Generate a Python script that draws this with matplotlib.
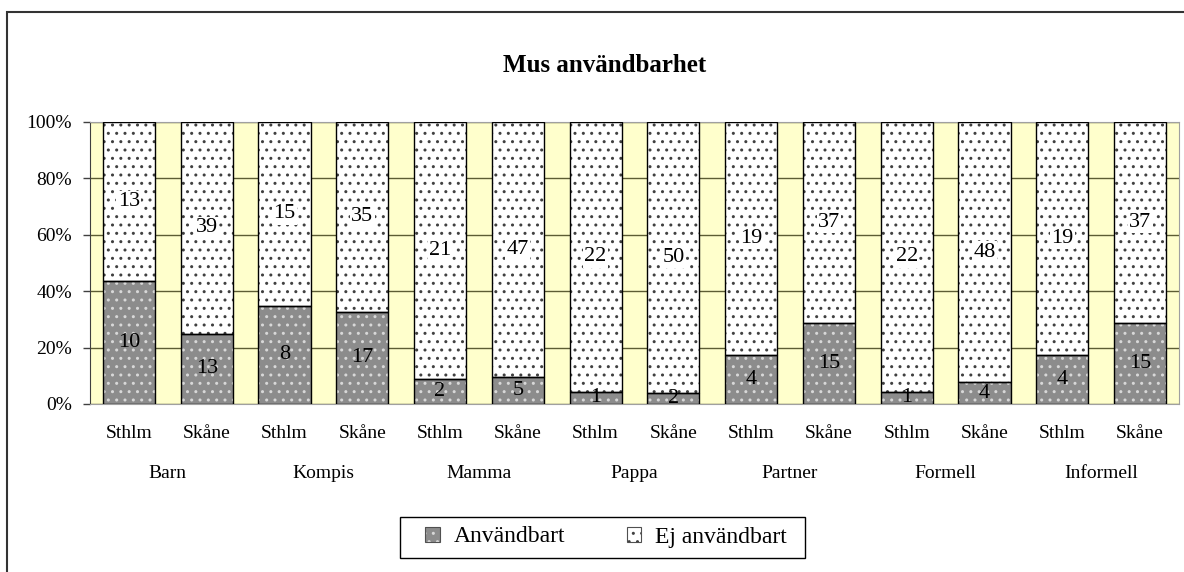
import matplotlib.pyplot as plt
from matplotlib.patches import Patch, Rectangle
import numpy as np

plt.rcParams['font.family'] = ['Liberation Serif', 'DejaVu Serif']
plt.rcParams['hatch.linewidth'] = 1.0

groups = ['Barn', 'Kompis', 'Mamma', 'Pappa', 'Partner', 'Formell', 'Informell']
regions = ['Sthlm', 'Skåne']
anvandbart = [10, 13, 8, 17, 2, 5, 1, 2, 4, 15, 1, 4, 4, 15]
ej_anvandbart = [13, 39, 15, 35, 21, 47, 22, 50, 19, 37, 22, 48, 19, 37]

a = np.array(anvandbart, dtype=float)
e = np.array(ej_anvandbart, dtype=float)
tot = a + e
pa = a / tot * 100
pe = e / tot * 100
x = np.arange(len(a))
w = 0.67

fig = plt.figure(figsize=(11.84, 5.72), dpi=100)
ax = fig.add_axes([90 / 1184, 1 - 404 / 572, 1089 / 1184, 282 / 572])
ax.set_facecolor('#ffffcc')

# hatched fills (edgecolor gives the dot colour), then outlines on top
ax.bar(x, pa, w, color='#8c8c8c', edgecolor='#d8d8d8', hatch='..', lw=0, zorder=2)
ax.bar(x, pe, w, bottom=pa, color='white', edgecolor='#404040', hatch='..', lw=0, zorder=2)
ax.bar(x, pa, w, fill=False, edgecolor='black', lw=1, zorder=3)
ax.bar(x, pe, w, bottom=pa, fill=False, edgecolor='black', lw=1, zorder=3)

for i in x:
    ax.text(i, pa[i] / 2, str(anvandbart[i]), ha='center', va='center', fontsize=16, zorder=4)
    ax.text(i, pa[i] + pe[i] / 2, str(ej_anvandbart[i]), ha='center', va='center', fontsize=16,
            zorder=4, bbox=dict(facecolor='white', edgecolor='none', pad=1))

ax.set_xlim(-0.5, len(a) - 0.5)
ax.set_ylim(0, 100)
ax.set_yticks(np.arange(0, 101, 20))
ax.set_yticklabels([f'{v}%' for v in range(0, 101, 20)], fontsize=14)
ax.yaxis.grid(True, color='#5c5c33', lw=1)
ax.set_axisbelow(True)
ax.tick_params(axis='y', length=5, width=1, color='#404040', pad=8)
ax.set_xticks([])
for s in ['top', 'right']:
    ax.spines[s].set_color('#a0a0a0')
ax.spines['left'].set_color('#404040')
ax.spines['bottom'].set_color('#a0a0a0')

tr = ax.get_xaxis_transform()
for i in x:
    ax.text(i, -0.106, regions[i % 2], transform=tr, ha='center', va='center', fontsize=14)
for g, name in enumerate(groups):
    ax.text(2 * g + 0.5, -0.248, name, transform=tr, ha='center', va='center', fontsize=14)

fig.text(605 / 1184, 1 - 65 / 572, 'Mus användbarhet', ha='center', va='center',
         fontsize=18, fontweight='bold')

outline = Patch(fill=False, edgecolor='#505050', lw=0.8)
handles = [(Patch(facecolor='#8c8c8c', edgecolor='#d8d8d8', hatch='..', lw=0), outline),
           (Patch(facecolor='white', edgecolor='#404040', hatch='..', lw=0), outline)]
leg = fig.legend(handles, ['Användbart', 'Ej användbart'], loc='center',
                 bbox_to_anchor=(606 / 1184, 1 - 537 / 572), ncol=2, fontsize=17,
                 frameon=False, handlelength=0.6, handleheight=0.6,
                 handletextpad=0.6, columnspacing=2.6)

# legend box
fig.patches.append(Rectangle((400 / 1184, 1 - 558 / 572), 405 / 1184, 41 / 572,
                             transform=fig.transFigure, fill=False,
                             edgecolor='black', lw=1))
# chart border
fig.patches.append(Rectangle((7 / 1184, -0.05), 1.2, 1 - 12 / 572 + 0.05,
                             transform=fig.transFigure, fill=False,
                             edgecolor='#333333', lw=1.5))

fig.savefig('out.png', dpi=100)
